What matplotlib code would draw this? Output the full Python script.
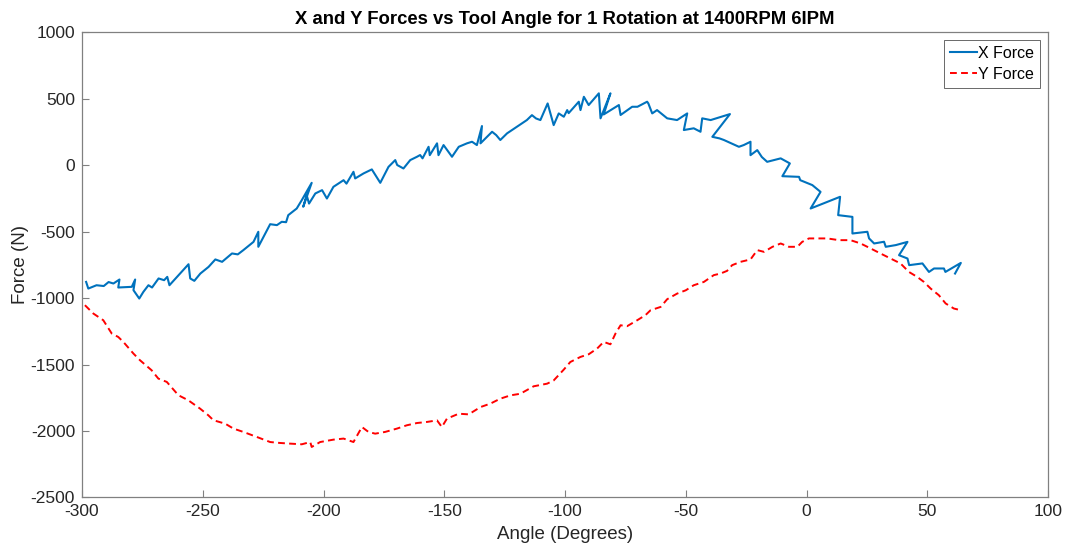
import numpy as np
import matplotlib
matplotlib.use('Agg')
import matplotlib.pyplot as plt

plt.rcParams['font.family'] = ['Liberation Sans', 'DejaVu Sans']
plt.rcParams['axes.unicode_minus'] = False

# X force trace (angle in degrees, force in N)
x_angle = [-298.3, -297.4, -294, -291, -289, -287, -284.5, -285, -279.4, -278, -278.7,
           -276.3, -274.6, -272.5, -271, -268.3, -266, -264.7, -263.8, -260, -255.9,
           -255.2, -253.5, -251, -247.6, -244.8, -242, -237.9, -235.5, -233.2, -229,
           -227, -227, -222.1, -219.3, -217.3, -215.5, -214.6, -211.1, -209, -204.9,
           -208.4, -207, -206, -203.4, -200.6, -198.6, -195.9, -191.7, -190.5, -187.6,
           -186.9, -183.4, -180, -176.5, -173.1, -170.3, -169.5, -166.9, -164.1, -161.3,
           -160, -159, -156.5, -156, -153, -152.4, -150.3, -146.8, -144, -140.6,
           -138.5, -136.5, -134.4, -135, -130.2, -128.5, -126.8, -124, -119.9, -115.8,
           -113.7, -112, -110.2, -107.2, -104.7, -102.6, -100.5, -99.1, -98.5, -94.3,
           -93.6, -92.2, -90.2, -86, -85.3, -81.2, -84, -77.7, -77, -72.2,
           -70, -66, -65.5, -63.9, -61.9, -57.7, -53.6, -49.4, -50.8, -46.7,
           -43.9, -43.2, -39.7, -31.7, -39, -36, -34.2, -28, -26, -23.2,
           -23.2, -20.4, -18.5, -16.3, -10.7, -6.9, -10, -3.1, -2.6, 2.4,
           5.8, 1.7, 13.9, 13.1, 19, 19, 25.2, 25.9, 28, 32.1,
           32.8, 37, 41.8, 38.3, 41.8, 42.5, 48, 50.7, 52.8, 56.9,
           57.5, 63.9, 61.5]
x_force = [-879, -929, -904, -910, -880, -891, -861, -921, -916, -861, -941,
           -1004, -954, -904, -921, -853, -866, -841, -904, -828, -746,
           -853, -871, -816, -766, -710, -728, -665, -672, -640, -578,
           -502, -615, -445, -452, -427, -430, -377, -327, -264, -134,
           -314, -226, -290, -214, -189, -252, -164, -114, -140, -51,
           -101, -63, -33, -134, -14, 37, 0, -26, 37, 62,
           75, 50, 137, 74, 163, 74, 150, 62, 137, 163,
           175, 150, 293, 163, 250, 225, 188, 238, 288, 338,
           375, 350, 338, 463, 300, 388, 363, 413, 390, 476,
           413, 513, 451, 539, 351, 539, 380, 451, 376, 438,
           438, 476, 463, 388, 413, 351, 338, 388, 263, 276,
           250, 351, 338, 383, 212, 200, 188, 137, 150, 175,
           74, 112, 60, 24, 50, 12, -84, -89, -114, -151,
           -202, -327, -239, -377, -390, -515, -502, -552, -590, -577,
           -615, -602, -578, -678, -703, -753, -740, -804, -778, -778,
           -804, -736, -816]

# Y force trace
y_angle = [-298.8, -295.3, -291.2, -287.7, -285, -282.9, -278.7, -276, -271.2, -268.4,
           -264.9, -260.1, -256, -251.1, -247.7, -245.6, -240.7, -237.3, -233.2, -227.6,
           -222.1, -218, -213.8, -209, -205.5, -204.9, -201.4, -195.9, -191.7, -187.6,
           -184.1, -181.4, -178.6, -174.5, -169.6, -165.5, -161.3, -157.2, -153, -151,
           -148.9, -144, -139.9, -135, -130.9, -126.8, -122.6, -118.5, -113, -107.4,
           -104.7, -100.5, -97.8, -93.6, -90.2, -86.7, -84, -81.2, -79.1, -77,
           -74.3, -70.1, -66.7, -64.6, -60.4, -57.7, -53.6, -50, -46.7, -42.5,
           -38.4, -35.6, -32.9, -30.8, -27.3, -23.2, -20.4, -17.6, -14.1, -10.7,
           -7.3, -3.8, -1.8, 1, 5, 8.6, 13.4, 18.2, 22.4, 26.5,
           30.6, 34.8, 38.9, 42.4, 45.8, 48.6, 51.4, 54.8, 57.6, 61,
           63.9]
y_force = [-1054, -1117, -1167, -1267, -1293, -1330, -1418, -1468, -1543, -1606,
           -1631, -1731, -1769, -1832, -1882, -1919, -1945, -1982, -2007, -2045,
           -2083, -2090, -2095, -2100, -2083, -2120, -2083, -2065, -2057, -2083,
           -1970, -2007, -2020, -2007, -1982, -1957, -1940, -1932, -1920, -1970,
           -1907, -1870, -1875, -1820, -1794, -1757, -1732, -1720, -1664, -1644,
           -1620, -1538, -1481, -1443, -1423, -1380, -1330, -1348, -1267, -1205,
           -1212, -1167, -1129, -1092, -1067, -1009, -967, -942, -904, -879,
           -828, -816, -796, -753, -728, -710, -640, -653, -615, -590,
           -615, -615, -578, -552, -552, -552, -565, -565, -590, -627,
           -665, -703, -740, -804, -841, -879, -929, -979, -1041, -1079,
           -1092]

x_ticks = [-300, -250, -200, -150, -100, -50, 0, 50, 100]
y_ticks = [-2500, -2000, -1500, -1000, -500, 0, 500, 1000]

fig = plt.figure(figsize=(10.68, 5.54), dpi=100)
ax = fig.add_axes([0.0768, 0.102, 0.9045, 0.8402])

ax.plot(x_angle, x_force, color='#0072BD', lw=1.5, label='X Force')
ax.plot(y_angle, y_force, color='#FF0000', lw=1.4, linestyle=(0, (3.5, 2.2)), label='Y Force')

ax.set_xlim(-300, 100)
ax.set_ylim(-2500, 1000)
ax.set_xticks(x_ticks)
ax.set_yticks(y_ticks)
ax.tick_params(direction='in', length=5, width=0.8, colors='#808080',
               labelcolor='#262626', labelsize=12.5, pad=5)
for s in ax.spines.values():
    s.set_color('#808080')
    s.set_linewidth(0.9)

ax.set_xlabel('Angle (Degrees)', fontsize=13.5, color='#262626', labelpad=5)
ax.set_ylabel('Force (N)', fontsize=13.5, color='#262626', labelpad=1)
ax.set_title('X and Y Forces vs Tool Angle for 1 Rotation at 1400RPM 6IPM',
             fontsize=13.3, fontweight='bold', color='black', pad=6)

leg = ax.legend(loc='upper right', fontsize=11.5, frameon=True, fancybox=False,
                edgecolor='#262626', handlelength=1.7, handletextpad=0.1,
                borderpad=0.35, labelspacing=0.4, borderaxespad=0.5)
leg.get_frame().set_linewidth(0.6)

plt.savefig('out.png', dpi=100)
